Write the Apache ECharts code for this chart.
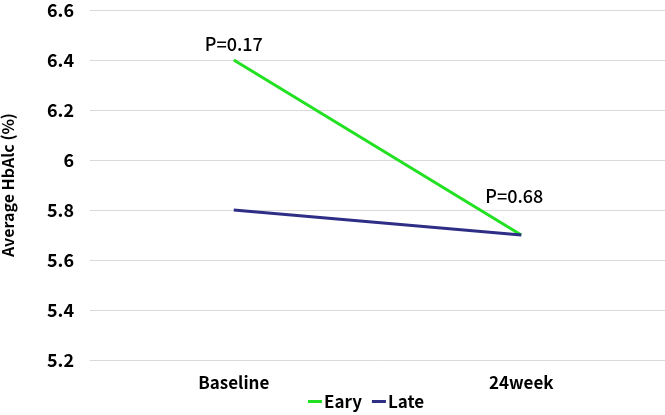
<!DOCTYPE html>
<html><head><meta charset="utf-8">
<script src="https://cdn.jsdelivr.net/npm/echarts@6/dist/echarts.min.js"></script>
<style>html,body{margin:0;padding:0;background:#fff}#c{width:665px;height:415px}</style>
</head><body><div id="c"></div>
<script>
const categories = ['Baseline', '24week'];
const earyValues = [6.4, 5.7];
const lateValues = [5.8, 5.7];
const earyLabels = ['P=0.17', 'P=0.68'];
const yTicks = [5.2, 5.4, 5.6, 5.8, 6, 6.2, 6.4, 6.6];

const FONT = '"Liberation Sans Narrow", "Noto Sans CJK JP", sans-serif';
const chart = echarts.init(document.getElementById('c'));
chart.setOption({
  animation: false,
  textStyle: { fontFamily: FONT },
  grid: { left: 90, right: 0, top: 10, bottom: 55, outerBoundsMode: 'none', containLabel: false },
  legend: {
    bottom: 0, left: 303, itemWidth: 14, itemHeight: 3, itemGap: 10,
    icon: 'rect',
    textStyle: { fontFamily: FONT, fontSize: 17, fontWeight: 'bold', color: '#000', padding: [0, 0, 0, -3] },
    data: ['Eary', 'Late']
  },
  xAxis: {
    type: 'category', data: categories, boundaryGap: true,
    axisLine: { show: true, lineStyle: { color: '#d9d9d9' } },
    axisTick: { show: false },
    axisLabel: { fontFamily: FONT, fontSize: 17, fontWeight: 'bold', color: '#000', margin: 14 }
  },
  yAxis: {
    type: 'value', min: 5.2, max: 6.6, interval: 0.2,
    name: 'Average HbAlc (%)', nameLocation: 'middle', nameGap: 74,
    nameTextStyle: { fontFamily: FONT, fontSize: 16, fontWeight: 'bold', color: '#000' },
    axisLine: { show: false }, axisTick: { show: false },
    splitLine: { lineStyle: { color: '#d9d9d9', width: 1 } },
    axisLabel: {
      fontFamily: FONT, fontSize: 18, fontWeight: 'bold', color: '#000', margin: 16,
      formatter: v => { const t = yTicks.find(x => Math.abs(x - v) < 1e-6); return t === undefined ? '' : String(t); }
    }
  },
  series: [
    {
      name: 'Eary', type: 'line', data: earyValues.map((v, i) => ({
        value: v,
        label: {
          show: true, formatter: earyLabels[i], position: 'top',
          offset: i === 0 ? [0, -2] : [-7, -25],
          fontFamily: FONT, fontSize: 18, fontWeight: 500, color: '#000'
        }
      })),
      symbol: 'circle', symbolSize: 0.1, showSymbol: true,
      lineStyle: { color: '#22e022', width: 3 }, itemStyle: { color: '#22e022' }
    },
    {
      name: 'Late', type: 'line', data: lateValues,
      symbol: 'circle', symbolSize: 0.1, showSymbol: true,
      lineStyle: { color: '#2e2e86', width: 3 }, itemStyle: { color: '#2e2e86' }
    }
  ]
});
</script></body></html>
